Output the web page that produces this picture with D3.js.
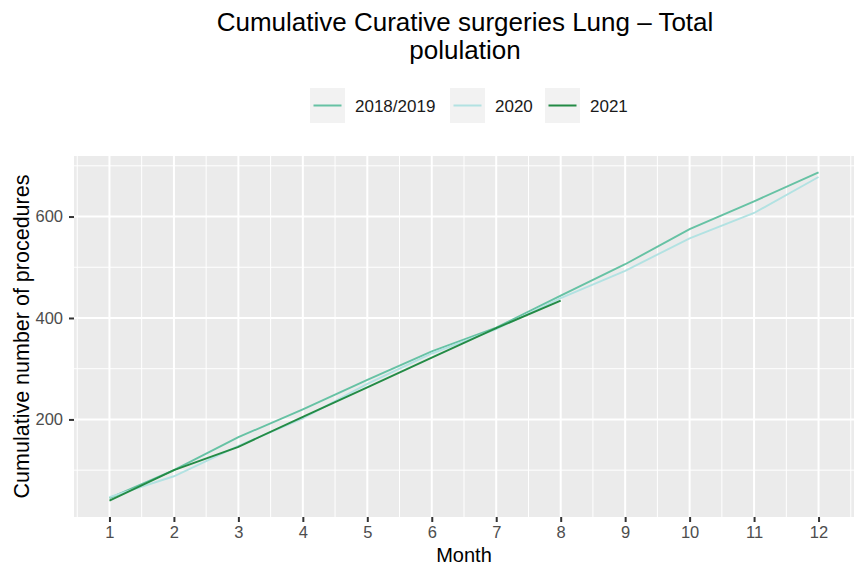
<!DOCTYPE html>
<html><head><meta charset="utf-8">
<script src="https://cdn.jsdelivr.net/npm/d3@7"></script>
<style>body{margin:0;background:#fff}svg{display:block;font-family:"Liberation Sans",Arial,sans-serif}</style>
</head><body><svg id="c" width="854" height="568"></svg>
<script>
const months = [1,2,3,4,5,6,7,8,9,10,11,12];
const seriesNames = ["2018/2019","2020","2021"];
const s2018_2019 = [45,100,165,220,278,334,381,444,506,575,630,687];
const s2020 = [47,88,148,202,270,330,378,439,493,557,607,678];
const s2021 = [40,100,146,205,263,322,380,434];
const colors = ["#66c2a4","#b2e2e2","#238b45"];
const yTicks = [200,400,600];
const titleLines = ["Cumulative Curative surgeries Lung \u2013 Total","polulation"];

const series = [s2018_2019, s2020, s2021].map((v,i)=>({name:seriesNames[i], color:colors[i], values:v.map((y,j)=>({x:months[j], y}))}));

const svg = d3.select("#c");
const P = {l:74, r:854, t:156, b:517};

const allY = series.flatMap(s=>s.values.map(d=>d.y));
const [ymin,ymax] = d3.extent(allY);
const ypad = 0.05*(ymax-ymin);
const x = d3.scaleLinear().domain([1-0.55, 12+0.55]).range([P.l,P.r]);
const y = d3.scaleLinear().domain([ymin-ypad, ymax+ypad]).range([P.b,P.t]);

svg.append("rect").attr("x",P.l).attr("y",P.t).attr("width",P.r-P.l).attr("height",P.b-P.t).attr("fill","#ebebeb");

const g = svg.append("g");
const xMinor = d3.range(0.5,13,1).filter(v=>x(v)>=P.l-0.5 && x(v)<=P.r+0.5);
const yMinor = [100,300,500,700];
g.selectAll(".xm").data(xMinor).join("line").attr("x1",d=>x(d)).attr("x2",d=>x(d)).attr("y1",P.t).attr("y2",P.b).attr("stroke","#fff").attr("stroke-width",1);
g.selectAll(".ym").data(yMinor).join("line").attr("x1",P.l).attr("x2",P.r).attr("y1",d=>y(d)).attr("y2",d=>y(d)).attr("stroke","#fff").attr("stroke-width",1);
g.selectAll(".xM").data(months).join("line").attr("x1",d=>x(d)).attr("x2",d=>x(d)).attr("y1",P.t).attr("y2",P.b).attr("stroke","#fff").attr("stroke-width",2);
g.selectAll(".yM").data(yTicks).join("line").attr("x1",P.l).attr("x2",P.r).attr("y1",d=>y(d)).attr("y2",d=>y(d)).attr("stroke","#fff").attr("stroke-width",2);

const line = d3.line().x(d=>x(d.x)).y(d=>y(d.y));
svg.append("g").selectAll("path").data(series).join("path")
  .attr("d",d=>line(d.values)).attr("fill","none").attr("stroke",d=>d.color).attr("stroke-width",1.9);

const xAxis = svg.append("g").attr("transform",`translate(0,${P.b})`)
  .call(d3.axisBottom(x).tickValues(months).tickSize(5).tickPadding(4));
const yAxis = svg.append("g").attr("transform",`translate(${P.l},0)`)
  .call(d3.axisLeft(y).tickValues(yTicks).tickSize(5).tickPadding(6));
[xAxis,yAxis].forEach(a=>{
  a.select(".domain").remove();
  a.selectAll(".tick line").attr("stroke","#333").attr("stroke-width",2);
  a.selectAll(".tick text").attr("fill","#4d4d4d").attr("font-size",16.5).attr("font-family","Liberation Sans, Arial, sans-serif");
});

svg.append("text").attr("x",(P.l+P.r)/2).attr("y",562).attr("text-anchor","middle").attr("font-size",20).attr("fill","#000").text("Month");
svg.append("text").attr("transform",`translate(29,${(P.t+P.b)/2}) rotate(-90)`).attr("text-anchor","middle").attr("font-size",21.5).attr("fill","#000").text("Cumulative number of procedures");

svg.append("g").selectAll("text").data(titleLines).join("text")
  .attr("x",465).attr("y",(d,i)=>31+i*28).attr("text-anchor","middle").attr("font-size",26).attr("fill","#000").text(d=>d);

const lg = svg.append("g");
const keyX = [310,450,545];
series.forEach((s,i)=>{
  const gi = lg.append("g").attr("transform",`translate(${keyX[i]},88)`);
  gi.append("rect").attr("width",35).attr("height",35).attr("fill","#f2f2f2");
  gi.append("line").attr("x1",3.5).attr("x2",31.5).attr("y1",17.5).attr("y2",17.5).attr("stroke",s.color).attr("stroke-width",2);
  gi.append("text").attr("x",45).attr("y",23.5).attr("font-size",17).attr("fill","#1a1a1a").text(s.name);
});
</script></body></html>
